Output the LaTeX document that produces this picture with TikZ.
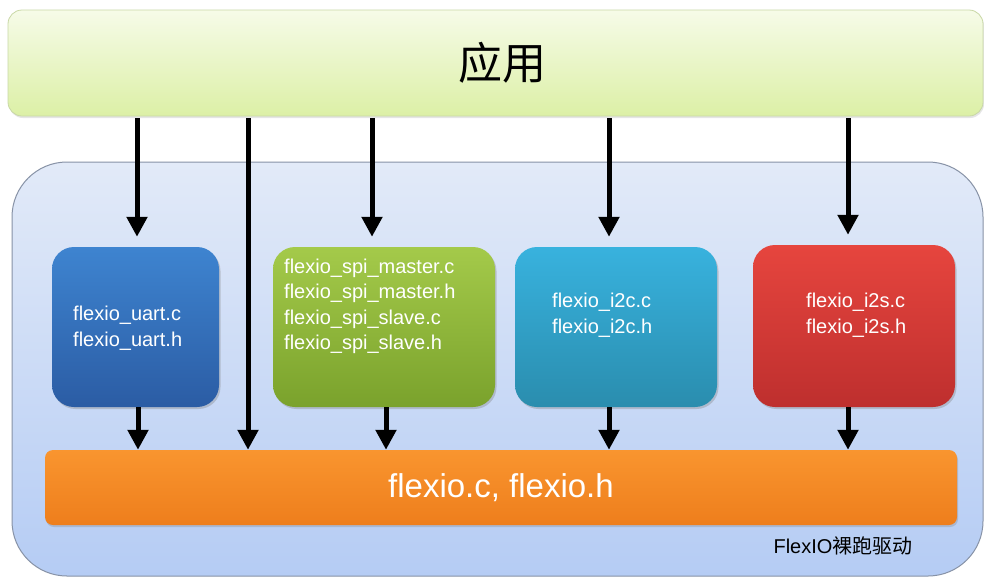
\documentclass[tikz,border=0pt]{standalone}
\usepackage{fontspec}
\setmainfont{Liberation Sans}
\newfontfamily\cjk{Noto Sans CJK SC}
\usetikzlibrary{arrows.meta,shadows}
\definecolor{appTop}{HTML}{F6FBE8}
\definecolor{appBot}{HTML}{DCF0A6}
\definecolor{appLine}{HTML}{C9D8A6}
\definecolor{contTop}{HTML}{E2EAF8}
\definecolor{contBot}{HTML}{B5CCF4}
\definecolor{contLine}{HTML}{8792A6}
\definecolor{uartTop}{HTML}{3E84D0}
\definecolor{uartBot}{HTML}{2B5CA4}
\definecolor{spiTop}{HTML}{A4CA4A}
\definecolor{spiBot}{HTML}{7AA22C}
\definecolor{iicTop}{HTML}{38B2DE}
\definecolor{iicBot}{HTML}{2A8DAE}
\definecolor{iisTop}{HTML}{E6453E}
\definecolor{iisBot}{HTML}{BE2F2E}
\definecolor{coreTop}{HTML}{F9952F}
\definecolor{coreBot}{HTML}{EE7E1C}
\begin{document}
\begin{tikzpicture}[x=1pt,y=-1pt,
  modbox/.style={rounded corners=22pt, inner sep=0pt,
    drop shadow={opacity=0.35, shadow xshift=1.5pt, shadow yshift=-2pt}},
  ftext/.style={text=white, align=left, inner sep=0pt, anchor=west,
    font=\fontsize{20}{25.5}\selectfont},
  arr/.style={line width=5pt, -{Triangle[length=20pt,width=20pt]}},
]
\useasboundingbox (0,0) rectangle (984,579);
\fill[white] (0,0) rectangle (984,579);

% application box
\node[rounded corners=14pt, draw=appLine, line width=0.8pt,
      top color=appTop, bottom color=appBot,
      minimum width=975pt, minimum height=106pt, inner sep=0pt,
      drop shadow={opacity=0.2, shadow xshift=1pt, shadow yshift=-2pt},
      font=\cjk\fontsize{44}{44}\selectfont]
  (app) at (495.5,63) {\hspace*{14pt}应用};

% container
\node[rounded corners=55pt, draw=contLine, line width=1pt,
      top color=contTop, bottom color=contBot,
      minimum width=971pt, minimum height=414pt, inner sep=0pt]
  (cont) at (497.5,369) {};

% modules
\node[modbox, top color=uartTop, bottom color=uartBot,
      minimum width=167pt, minimum height=160pt] (uart) at (135.5,327) {};
\node[modbox, top color=spiTop, bottom color=spiBot,
      minimum width=222pt, minimum height=160pt] (spi) at (384,327) {};
\node[modbox, top color=iicTop, bottom color=iicBot,
      minimum width=202pt, minimum height=160pt] (iic) at (616,327) {};
\node[modbox, top color=iisTop, bottom color=iisBot,
      minimum width=202pt, minimum height=162pt] (iis) at (854,326) {};

\node[ftext] (uartt) at (73,328) {flexio\_uart.c\\flexio\_uart.h};
\node[ftext] (spit) at (284,306.5) {flexio\_spi\_master.c\\flexio\_spi\_master.h\\flexio\_spi\_slave.c\\flexio\_spi\_slave.h};
\node[ftext] (iict) at (552,315) {flexio\_i2c.c\\flexio\_i2c.h};
\node[ftext] (iist) at (806,315) {flexio\_i2s.c\\flexio\_i2s.h};

% core
\node[rounded corners=8pt, inner sep=0pt,
      top color=coreTop, bottom color=coreBot,
      minimum width=912pt, minimum height=75pt,
      drop shadow={opacity=0.3, shadow xshift=1pt, shadow yshift=-2pt},
      text=white, font=\fontsize{33}{33}\selectfont]
  (core) at (501,487.5) {flexio.c, flexio.h};

\node[anchor=center, inner sep=0pt, font=\fontsize{20}{20}\selectfont]
  (label) at (843,546) {FlexIO{\cjk 裸跑驱动}};

% arrows from the application
\draw[arr, shorten <=2pt, shorten >=10pt] ([xshift=1.5pt]uart.north |- app.south) -- ([xshift=1.5pt]uart.north);
\draw[arr, shorten <=2pt, shorten >=10pt] ([xshift=-12pt]spi.north |- app.south) -- ([xshift=-12pt]spi.north);
\draw[arr, shorten <=2pt, shorten >=10pt] ([xshift=-7pt]iic.north |- app.south) -- ([xshift=-7pt]iic.north);
\draw[arr, shorten <=2pt, shorten >=10pt] ([xshift=-6pt]iis.north |- app.south) -- ([xshift=-6pt]iis.north);
\draw[arr, shorten <=2pt] ([xshift=-253pt]core.north |- app.south) -- ([xshift=-253pt]core.north);

% arrows to the core
\draw[arr] ([xshift=2.5pt]uart.south) -- ([xshift=2.5pt]uart.south |- core.north);
\draw[arr] ([xshift=2pt]spi.south) -- ([xshift=2pt]spi.south |- core.north);
\draw[arr] ([xshift=-7pt]iic.south) -- ([xshift=-7pt]iic.south |- core.north);
\draw[arr] ([xshift=-6pt]iis.south) -- ([xshift=-6pt]iis.south |- core.north);
\end{tikzpicture}
\end{document}
